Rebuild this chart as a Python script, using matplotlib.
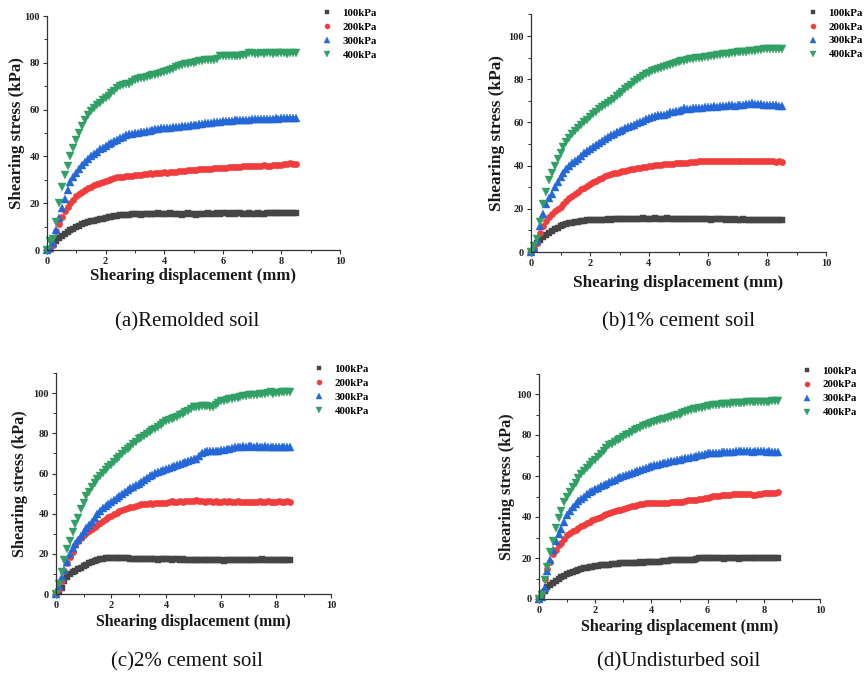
import matplotlib
matplotlib.use("Agg")
import matplotlib.pyplot as plt
from matplotlib.ticker import MultipleLocator

# Shear displacement readings (mm), one every 0.1 mm
displacement = [
    0.0, 0.1, 0.2, 0.3, 0.4, 0.5, 0.6, 0.7, 0.8, 0.9,
    1.0, 1.1, 1.2, 1.3, 1.4, 1.5, 1.6, 1.7, 1.8, 1.9,
    2.0, 2.1, 2.2, 2.3, 2.4, 2.5, 2.6, 2.7, 2.8, 2.9,
    3.0, 3.1, 3.2, 3.3, 3.4, 3.5, 3.6, 3.7, 3.8, 3.9,
    4.0, 4.1, 4.2, 4.3, 4.4, 4.5, 4.6, 4.7, 4.8, 4.9,
    5.0, 5.1, 5.2, 5.3, 5.4, 5.5, 5.6, 5.7, 5.8, 5.9,
    6.0, 6.1, 6.2, 6.3, 6.4, 6.5, 6.6, 6.7, 6.8, 6.9,
    7.0, 7.1, 7.2, 7.3, 7.4, 7.5, 7.6, 7.7, 7.8, 7.9,
    8.0, 8.1, 8.2, 8.3, 8.4, 8.5,
]

pressure_labels = ["100kPa", "200kPa", "300kPa", "400kPa"]
captions = ["(a)Remolded soil", "(b)1% cement soil",
            "(c)2% cement soil", "(d)Undisturbed soil"]

# ---- (a) remolded soil: shear stress (kPa) ----
remolded_100 = [
    0.0, 0.6, 2.0, 3.8, 5.0, 6.0, 6.8, 7.6, 8.4, 9.1,
    9.8, 10.3, 10.9, 11.4, 11.8, 12.2, 12.6, 12.9, 13.2, 13.4,
    13.6, 13.9, 14.2, 14.4, 14.6, 14.8, 14.9, 15.1, 15.0, 15.2,
    15.2, 15.3, 15.1, 15.4, 15.3, 15.5, 15.2, 15.4, 15.6, 15.3,
    15.5, 15.4, 15.6, 15.2, 15.5, 15.3, 15.1, 15.4, 15.6, 15.3,
    15.2, 15.0, 15.3, 15.5, 15.4, 15.6, 15.3, 15.5, 15.7, 15.4,
    15.6, 15.8, 15.5, 15.7, 15.4, 15.6, 15.8, 15.5, 15.3, 15.6,
    15.5, 15.4, 15.6, 15.3, 15.5, 15.7, 15.6, 15.8, 15.7, 15.9,
    15.8, 16.0, 15.7, 15.9, 15.6, 15.7,
]
remolded_200 = [
    0.0, 0.5, 2.0, 8.0, 11.0, 14.0, 16.5, 18.5, 20.0, 21.5,
    23.0, 24.0, 25.0, 25.8, 26.5, 27.0, 27.6, 28.0, 28.6, 29.0,
    29.5, 30.0, 30.5, 30.8, 31.0, 31.2, 31.4, 31.6, 31.8, 31.7,
    32.0, 32.2, 32.1, 32.4, 32.5, 32.7, 32.6, 32.9, 33.0, 33.1,
    33.2, 33.0, 33.3, 33.5, 33.4, 33.6, 33.8, 33.7, 34.0, 34.1,
    34.3, 34.2, 34.5, 34.6, 34.5, 34.8, 34.7, 35.0, 34.9, 35.1,
    35.2, 35.1, 35.3, 35.5, 35.4, 35.6, 35.5, 35.8, 35.7, 35.9,
    36.0, 35.9, 36.1, 36.0, 36.2, 36.1, 36.0, 36.2, 36.3, 36.2,
    36.3, 36.6, 36.9, 37.0, 36.8, 36.6,
]
remolded_300 = [
    0.0, 1.0, 3.0, 8.5, 13.5, 18.0, 22.0, 25.5, 29.0, 31.0,
    33.0, 34.6, 36.2, 37.5, 38.8, 40.0, 41.0, 42.0, 43.0, 43.8,
    44.5, 45.2, 45.9, 46.5, 47.2, 48.0, 48.5, 49.0, 49.4, 49.7,
    50.0, 50.2, 50.4, 50.6, 50.8, 51.0, 51.3, 51.5, 51.8, 52.0,
    52.0, 52.2, 52.3, 52.5, 52.4, 52.6, 52.8, 53.0, 53.1, 53.3,
    53.5, 53.6, 53.8, 54.0, 54.1, 54.3, 54.4, 54.6, 54.7, 54.9,
    55.0, 55.1, 55.0, 55.3, 55.4, 55.5, 55.4, 55.6, 55.7, 55.6,
    55.8, 55.9, 55.8, 56.0, 56.1, 56.0, 55.9, 56.1, 56.2, 56.1,
    56.2, 56.4, 56.5, 56.3, 56.5, 56.3,
]
remolded_400 = [
    0.0, 4.0, 4.5, 12.0, 20.0, 27.0, 32.0, 36.0, 40.0, 43.5,
    47.0, 50.0, 53.0, 55.5, 57.5, 59.5, 60.8, 62.0, 63.0, 64.0,
    65.0, 66.0, 67.0, 68.0, 69.2, 70.0, 70.5, 71.0, 70.8, 71.6,
    72.5, 73.0, 73.3, 73.6, 74.0, 74.5, 74.8, 75.0, 75.2, 75.5,
    76.0, 76.5, 76.8, 77.4, 78.0, 78.5, 79.0, 79.3, 79.6, 79.8,
    80.0, 80.3, 80.6, 80.8, 81.0, 81.0, 81.2, 81.3, 81.5, 82.8,
    82.8, 82.9, 83.0, 82.9, 83.1, 83.0, 83.1, 83.2, 83.2, 84.0,
    84.0, 83.8, 83.9, 84.0, 83.8, 84.1, 84.0, 83.9, 84.1, 84.0,
    84.0, 84.1, 83.9, 84.2, 84.1, 84.2,
]

# ---- (b) 1% cement soil ----
cement1_100 = [
    0.0, 2.0, 4.0, 5.5, 6.8, 8.0, 8.9, 9.7, 10.5, 11.2,
    12.0, 12.4, 12.9, 13.3, 13.6, 13.8, 14.1, 14.3, 14.5, 14.6,
    14.7, 14.8, 14.7, 14.9, 15.0, 14.9, 15.1, 15.0, 15.2, 15.1,
    15.2, 15.3, 15.1, 15.4, 15.3, 15.5, 15.2, 15.4, 15.6, 15.5,
    15.5, 15.3, 15.6, 15.4, 15.5, 15.3, 15.6, 15.4, 15.5, 15.3,
    15.3, 15.5, 15.2, 15.4, 15.1, 15.3, 15.2, 15.4, 15.1, 15.3,
    15.2, 15.0, 15.3, 15.1, 15.4, 15.2, 15.0, 15.1, 14.9, 15.1,
    15.0, 14.9, 15.1, 14.8, 15.0, 14.9, 14.7, 14.9, 14.8, 15.0,
    14.8, 14.9, 14.7, 14.9, 14.8, 14.8,
]
cement1_200 = [
    0.0, 1.5, 4.0, 9.0, 12.0, 14.5, 16.2, 17.5, 18.8, 20.0,
    21.0, 22.3, 23.6, 24.8, 26.0, 27.0, 28.0, 29.0, 29.8, 30.7,
    31.5, 32.3, 33.0, 33.7, 34.4, 35.0, 35.5, 36.0, 36.4, 36.7,
    37.0, 37.3, 37.6, 37.9, 38.2, 38.5, 38.8, 39.0, 39.3, 39.5,
    39.8, 40.0, 40.2, 40.3, 40.5, 40.6, 40.7, 40.8, 40.9, 41.0,
    41.0, 41.2, 41.3, 41.4, 41.5, 41.6, 41.8, 41.9, 42.0, 42.0,
    42.0, 42.1, 42.0, 42.2, 42.1, 42.0, 42.2, 42.1, 42.3, 42.2,
    42.2, 42.1, 42.3, 42.2, 42.1, 42.0, 42.2, 42.1, 42.0, 42.1,
    42.0, 41.9, 42.0, 41.8, 41.9, 41.8,
]
cement1_300 = [
    0.0, 2.0, 5.0, 12.0, 17.5, 22.0, 25.0, 27.0, 30.0, 32.3,
    34.5, 36.5, 38.5, 40.0, 41.0, 42.0, 43.2, 44.5, 45.7, 46.6,
    47.5, 48.5, 49.5, 50.5, 51.5, 52.5, 53.3, 54.0, 54.7, 55.4,
    56.0, 56.6, 57.2, 57.8, 58.4, 59.0, 59.6, 60.2, 60.8, 61.4,
    62.0, 62.4, 62.8, 63.2, 63.5, 63.2, 64.0, 64.6, 65.0, 65.2,
    65.5, 65.8, 66.8, 66.2, 66.4, 66.6, 66.5, 66.8, 66.7, 67.0,
    67.0, 67.2, 67.4, 67.3, 67.6, 67.8, 67.5, 67.9, 68.1, 67.8,
    68.0, 68.2, 67.9, 68.3, 68.6, 68.9, 68.4, 68.5, 68.3, 68.1,
    68.0, 68.2, 67.9, 68.1, 67.8, 67.8,
]
cement1_400 = [
    0.0, 3.0, 6.0, 14.0, 22.0, 28.0, 33.5, 36.5, 40.0, 43.0,
    46.0, 48.5, 51.0, 52.8, 54.5, 56.0, 57.5, 58.8, 60.0, 61.3,
    62.5, 63.7, 64.8, 66.0, 67.0, 68.0, 69.0, 70.0, 71.0, 72.0,
    73.0, 74.2, 75.3, 76.4, 77.5, 78.5, 79.5, 80.5, 81.5, 82.3,
    83.0, 83.6, 84.2, 84.8, 85.2, 85.5, 86.0, 86.5, 87.0, 87.5,
    88.0, 88.3, 88.6, 88.9, 89.2, 89.5, 89.7, 90.0, 89.8, 90.2,
    90.5, 90.7, 90.9, 91.1, 91.3, 91.5, 91.6, 91.8, 92.0, 92.2,
    92.5, 92.6, 92.8, 92.7, 93.0, 93.0, 93.2, 93.4, 93.6, 93.8,
    94.0, 94.1, 94.0, 94.2, 94.1, 94.2,
]

# ---- (c) 2% cement soil ----
cement2_100 = [
    0.0, 1.0, 3.0, 6.5, 8.5, 10.0, 10.8, 11.6, 12.5, 13.2,
    14.0, 14.6, 15.3, 15.9, 16.5, 17.0, 17.3, 17.6, 17.8, 18.0,
    18.0, 18.1, 17.9, 18.0, 17.8, 17.8, 17.9, 17.6, 17.5, 17.4,
    17.3, 17.4, 17.2, 17.3, 17.4, 17.2, 17.3, 17.1, 17.3, 17.2,
    17.3, 17.2, 17.1, 17.3, 17.2, 17.0, 17.2, 17.1, 17.0, 17.1,
    17.0, 16.9, 17.1, 17.0, 16.9, 17.1, 17.0, 16.9, 17.0, 16.9,
    16.8, 16.6, 16.9, 17.0, 16.9, 17.1, 17.0, 16.9, 17.1, 17.0,
    17.1, 17.0, 16.9, 17.1, 17.0, 17.2, 17.0, 16.9, 17.1, 17.0,
    17.0, 16.9, 17.1, 17.0, 16.9, 17.0,
]
cement2_200 = [
    0.0, 2.5, 6.5, 11.5, 15.5, 18.5, 21.0, 24.5, 26.5, 28.0,
    29.5, 30.5, 31.5, 32.5, 33.5, 34.5, 35.5, 36.5, 37.3, 38.2,
    39.0, 39.8, 40.5, 41.2, 41.8, 42.5, 43.0, 43.4, 43.5, 44.0,
    44.5, 44.6, 44.8, 45.0, 45.1, 45.0, 45.2, 45.3, 45.4, 45.5,
    45.5, 45.8, 46.2, 45.9, 46.0, 46.1, 46.0, 46.2, 46.1, 46.3,
    46.3, 46.6, 46.2, 46.1, 46.0, 46.2, 46.1, 46.0, 46.1, 46.0,
    46.0, 46.1, 46.0, 46.1, 45.9, 46.0, 46.1, 46.0, 45.9, 46.0,
    46.0, 45.9, 45.8, 46.0, 46.1, 45.9, 46.0, 46.1, 45.9, 46.0,
    46.0, 46.1, 45.9, 46.0, 46.1, 46.0,
]
cement2_300 = [
    0.0, 4.0, 8.5, 12.0, 16.0, 20.0, 23.0, 25.0, 27.0, 29.0,
    31.0, 32.7, 34.4, 36.0, 38.0, 40.0, 41.3, 42.6, 43.8, 45.0,
    46.0, 47.0, 48.0, 49.0, 50.0, 51.0, 51.8, 52.6, 53.4, 54.2,
    55.0, 55.9, 56.8, 57.7, 58.6, 59.5, 60.1, 60.7, 61.3, 61.9,
    62.5, 63.0, 63.5, 64.0, 64.5, 65.0, 65.5, 66.0, 66.4, 66.9,
    67.5, 67.2, 68.8, 70.0, 70.6, 71.0, 71.2, 71.1, 71.3, 71.4,
    71.5, 71.8, 72.1, 72.4, 72.7, 73.0, 73.2, 73.3, 73.5, 73.4,
    73.5, 73.6, 73.4, 73.5, 73.3, 73.4, 73.5, 73.3, 73.2, 73.4,
    73.2, 73.3, 73.1, 73.2, 73.0, 73.0,
]
cement2_400 = [
    0.0, 5.0, 11.0, 17.0, 22.5, 26.5, 31.0, 35.0, 38.0, 42.5,
    45.5, 49.0, 51.0, 53.3, 55.5, 57.3, 59.0, 60.5, 62.0, 63.3,
    64.5, 65.8, 67.1, 68.4, 69.7, 71.0, 72.2, 73.4, 74.6, 75.8,
    77.0, 77.9, 78.8, 79.7, 80.6, 81.5, 82.4, 83.3, 84.2, 85.1,
    86.0, 86.6, 87.2, 87.8, 88.4, 89.0, 89.8, 90.6, 91.4, 92.2,
    93.0, 93.2, 93.4, 93.5, 93.6, 93.5, 93.2, 93.0, 94.2, 95.0,
    96.0, 96.3, 96.6, 96.9, 97.2, 97.5, 97.8, 98.1, 98.4, 98.7,
    99.0, 99.1, 99.2, 99.3, 99.4, 99.5, 99.7, 99.9, 100.5, 99.5,
    100.0, 100.3, 100.5, 100.6, 100.7, 100.8,
]

# ---- (d) undisturbed soil ----
undisturbed_100 = [
    0.0, 2.0, 4.0, 6.0, 7.0, 8.0, 8.9, 9.7, 10.5, 11.2,
    12.0, 12.5, 13.0, 13.5, 14.0, 14.5, 14.9, 15.3, 15.6, 15.8,
    16.0, 16.2, 16.4, 16.5, 16.7, 16.8, 17.0, 17.2, 17.3, 17.4,
    17.5, 17.6, 17.5, 17.7, 17.8, 17.8, 17.9, 17.7, 17.9, 18.0,
    18.0, 17.9, 18.1, 18.2, 18.3, 18.5, 18.6, 18.8, 18.9, 19.0,
    19.0, 19.1, 19.0, 19.2, 19.1, 19.2, 19.3, 20.0, 19.9, 20.0,
    20.0, 19.9, 20.0, 19.8, 19.9, 19.8, 19.7, 19.9, 19.8, 19.9,
    19.8, 19.7, 19.9, 19.8, 19.9, 20.0, 19.8, 19.9, 20.0, 19.9,
    19.8, 19.9, 20.0, 19.9, 20.0, 20.0,
]
undisturbed_200 = [
    0.0, 3.5, 10.0, 14.5, 18.0, 22.0, 24.0, 26.5, 27.5, 29.3,
    31.0, 32.0, 33.0, 33.8, 34.7, 35.5, 36.3, 37.0, 37.7, 38.4,
    39.0, 39.6, 40.2, 40.8, 41.4, 42.0, 42.4, 42.8, 43.2, 43.6,
    44.0, 44.4, 44.8, 45.2, 45.6, 46.0, 46.2, 46.4, 46.6, 46.7,
    46.8, 46.9, 47.0, 46.9, 47.0, 47.0, 46.9, 47.1, 47.2, 47.3,
    47.5, 47.2, 47.9, 48.3, 48.5, 48.5, 48.3, 48.6, 48.8, 49.1,
    49.5, 49.8, 50.1, 50.3, 50.4, 50.5, 50.7, 50.8, 50.9, 51.0,
    51.0, 51.1, 51.0, 51.2, 51.1, 51.0, 50.8, 50.9, 51.2, 51.4,
    51.5, 51.9, 51.6, 51.7, 51.8, 52.0,
]
undisturbed_300 = [
    0.0, 1.0, 5.5, 13.5, 19.0, 24.0, 28.5, 31.5, 34.0, 37.5,
    41.0, 43.0, 45.0, 46.4, 47.7, 49.0, 50.0, 51.0, 52.0, 52.8,
    53.5, 54.2, 54.9, 55.6, 56.3, 57.0, 57.6, 58.2, 58.8, 59.4,
    60.0, 60.5, 61.0, 61.5, 62.0, 62.5, 63.0, 63.5, 64.0, 64.5,
    65.0, 65.3, 65.6, 65.9, 66.2, 66.5, 66.8, 67.1, 67.4, 67.7,
    68.0, 68.3, 68.6, 68.9, 69.2, 69.5, 69.8, 70.1, 70.4, 70.7,
    71.0, 71.1, 71.2, 71.3, 71.4, 71.5, 71.6, 71.7, 71.8, 71.9,
    72.0, 72.1, 72.0, 72.2, 72.1, 72.0, 71.9, 72.1, 72.0, 72.1,
    72.0, 71.9, 72.0, 71.8, 71.9, 71.8,
]
undisturbed_400 = [
    0.0, 2.0, 9.5, 15.5, 23.0, 28.5, 34.5, 39.5, 43.0, 47.5,
    50.0, 52.3, 54.5, 56.8, 59.0, 60.8, 62.5, 64.0, 65.5, 66.8,
    68.0, 69.3, 70.6, 72.0, 73.5, 75.0, 75.8, 76.6, 77.4, 78.2,
    79.0, 79.8, 80.6, 81.4, 82.2, 83.0, 83.6, 84.2, 84.8, 85.4,
    86.0, 86.4, 86.8, 87.2, 87.6, 88.0, 88.4, 88.8, 89.2, 89.6,
    90.0, 90.5, 91.0, 91.5, 92.0, 92.5, 92.8, 93.1, 93.4, 93.7,
    94.0, 94.2, 94.4, 94.6, 94.8, 95.0, 95.1, 95.2, 95.3, 95.4,
    95.5, 95.6, 95.7, 95.8, 95.9, 96.0, 96.0, 96.1, 96.1, 96.2,
    96.2, 96.3, 96.3, 96.4, 96.4, 96.5,
]

panels_data = [
    [remolded_100, remolded_200, remolded_300, remolded_400],
    [cement1_100, cement1_200, cement1_300, cement1_400],
    [cement2_100, cement2_200, cement2_300, cement2_400],
    [undisturbed_100, undisturbed_200, undisturbed_300, undisturbed_400],
]

# ---- styling ----
W, H = 866, 678
colors = ["#454545", "#f03c3c", "#2468d8", "#30a064"]
markers = ["s", "o", "^", "v"]
msizes = [4.2, 4.6, 5.2, 5.2]
serif_b = dict(family="Liberation Serif", weight="bold")

# per-panel layout in pixels: axes left, x=10 px, y=0 px, top px, ymax,
# legend anchor, ylabel x, xlabel y, label font sizes, caption centre
layout = [
    dict(left=47, right=340, y0=250, ytop=16, ymax=100, leg=(322, 8.5),
         ylab_x=17, xlab_y=276, xfs=12.1, yfs=12.1, cap=(187, 322)),
    dict(left=531, right=826, y0=252, ytop=14.4, ymax=110, leg=(808, 8),
         ylab_x=497, xlab_y=283, xfs=12.3, yfs=12.4, cap=(679, 322)),
    dict(left=56, right=331, y0=594, ytop=373.2, ymax=110, leg=(314, 364.5),
         ylab_x=20, xlab_y=622, xfs=11.4, yfs=11.7, cap=(187, 662)),
    dict(left=539, right=820, y0=599, ytop=373.5, ymax=110, leg=(802, 366),
         ylab_x=507, xlab_y=627, xfs=11.6, yfs=11.7, cap=(679, 662)),
]

plt.rcParams["font.family"] = ["Liberation Serif", "DejaVu Serif"]
fig = plt.figure(figsize=(W / 100, H / 100), dpi=100)
fig.patch.set_facecolor("white")

for data, lay, caption in zip(panels_data, layout, captions):
    left = lay["left"] / W
    bottom = 1 - lay["y0"] / H
    width = (lay["right"] - lay["left"]) / W
    height = (lay["y0"] - lay["ytop"]) / H
    ax = fig.add_axes([left, bottom, width, height])

    handles = []
    for series, c, m, ms, lab in zip(data, colors, markers, msizes, pressure_labels):
        h, = ax.plot(displacement, series, ls="none", marker=m, ms=ms,
                     color=c, mec=c, mew=0.3, label=lab, clip_on=False)
        handles.append(h)

    ax.set_xlim(0, 10)
    ax.set_ylim(0, lay["ymax"])
    ax.xaxis.set_major_locator(MultipleLocator(2))
    ax.xaxis.set_minor_locator(MultipleLocator(1))
    ax.yaxis.set_major_locator(MultipleLocator(20))
    ax.yaxis.set_minor_locator(MultipleLocator(10))
    for s in ("top", "right"):
        ax.spines[s].set_visible(False)
    for s in ("left", "bottom"):
        ax.spines[s].set_color("#333333")
        ax.spines[s].set_linewidth(0.9)
    ax.tick_params(which="major", direction="out", length=3, width=0.8,
                   color="#333333", pad=2, labelsize=7.5)
    ax.tick_params(which="minor", direction="out", length=2, width=0.7,
                   color="#333333")
    for t in ax.get_xticklabels() + ax.get_yticklabels():
        t.set_fontweight("bold")
        t.set_family("Liberation Serif")
        t.set_color("#222222")

    axh = lay["y0"] - lay["ytop"]
    axw = lay["right"] - lay["left"]
    ax.set_xlabel("Shearing displacement (mm)", fontsize=lay["xfs"],
                  color="#1a1a1a", **serif_b)
    ax.xaxis.set_label_coords(0.5, -(lay["xlab_y"] - lay["y0"]) / axh)
    ax.xaxis.label.set_va("center")
    ax.set_ylabel("Shearing stress (kPa)", fontsize=lay["yfs"],
                  color="#1a1a1a", **serif_b)
    ax.yaxis.set_label_coords((lay["ylab_x"] - lay["left"]) / axw, 0.5)
    ax.yaxis.label.set_va("center")

    lx, ly = lay["leg"]
    ax.legend(handles=handles, loc="upper left",
              bbox_to_anchor=(lx / W, 1 - ly / H),
              bbox_transform=fig.transFigure, frameon=False, borderpad=0,
              handlelength=1.0, handletextpad=0.9, labelspacing=0.4,
              borderaxespad=0, markerscale=0.8,
              prop=dict(family="Liberation Serif", weight="bold", size=7.8))

    cx, cy = lay["cap"]
    fig.text(cx / W, 1 - cy / H, caption, ha="center", va="center",
             fontsize=15, family="Liberation Serif", color="#111111")

fig.savefig("out.png", dpi=100, facecolor="white")
